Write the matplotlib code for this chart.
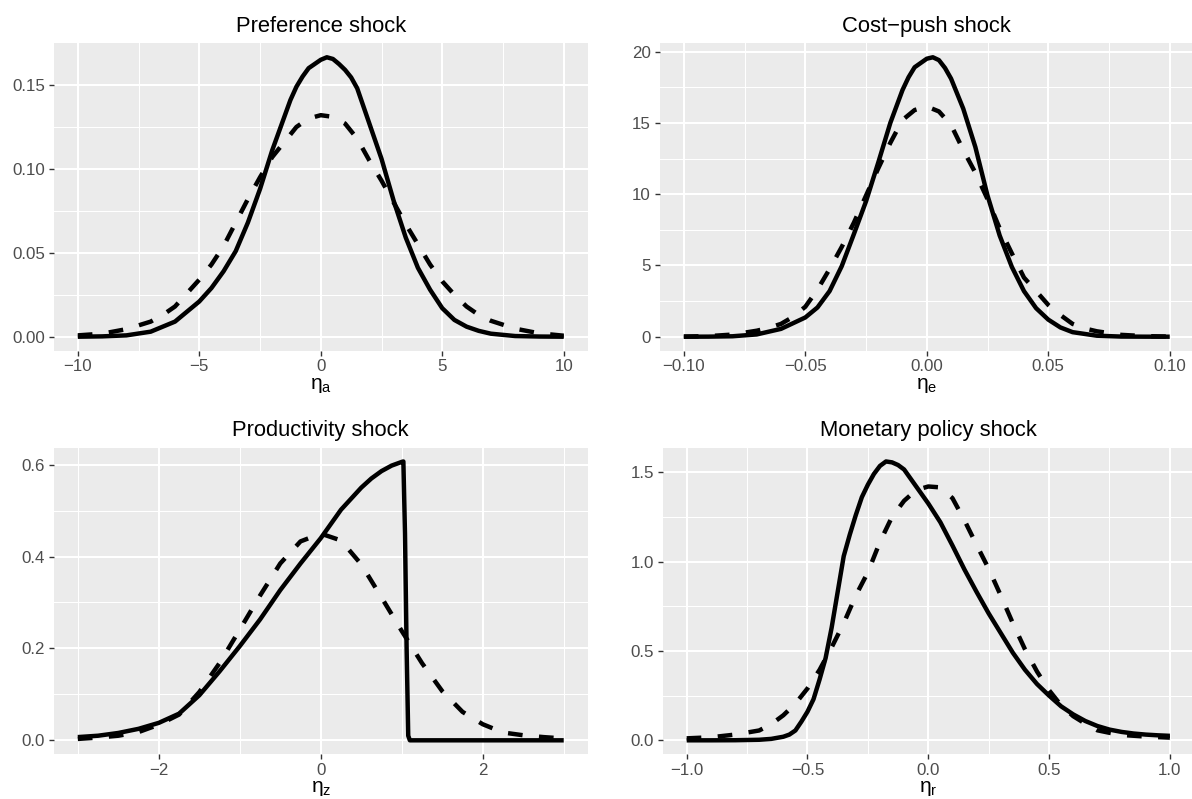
import matplotlib
matplotlib.use("Agg")
import matplotlib.pyplot as plt

plt.rcParams['font.family'] = ['Liberation Sans', 'DejaVu Sans']
plt.rcParams['mathtext.fontset'] = 'custom'
plt.rcParams['mathtext.rm'] = 'Liberation Sans'
plt.rcParams['mathtext.it'] = 'Liberation Sans:italic'

# Datos
#------------------------------------------------------------------------
# Preference shock
pref_x_solid = [-10, -9, -8, -7, -6, -5, -4.5, -4, -3.5, -3, -2.5, -2, -1.5, -1.25, -1, -0.75, -0.5, 0, 0.25,
                0.5, 0.75, 1, 1.25, 1.5, 2, 2.5, 3, 3.5, 4, 4.5, 5, 5.5, 6, 6.5, 7, 8, 9, 10]
pref_solid = [0.0, 0.0002, 0.0008, 0.003, 0.009, 0.021, 0.029, 0.039, 0.051, 0.068, 0.088, 0.111, 0.131,
              0.141, 0.149, 0.155, 0.160, 0.165, 0.1665, 0.1655, 0.1625, 0.159, 0.1545, 0.148, 0.127, 0.106,
              0.081, 0.059, 0.041, 0.028, 0.017, 0.010, 0.006, 0.0035, 0.0018, 0.0004, 0.0001, 0.0]
pref_x_dashed = [-10, -9, -8, -7, -6.5, -6, -5, -4.5, -4, -3.5, -3, -2.5, -2, -1.5, -1, -0.5, 0, 0.5, 1, 1.5,
                 2, 2.5, 3, 3.5, 4, 4.5, 5, 5.5, 6, 6.5, 7, 8, 9, 10]
pref_dashed = [0.0008, 0.0018, 0.0045, 0.009, 0.013, 0.018, 0.034, 0.043, 0.054, 0.068, 0.082, 0.095, 0.107,
               0.116, 0.125, 0.130, 0.132, 0.131, 0.127, 0.118, 0.105, 0.093, 0.080, 0.067, 0.055, 0.043,
               0.033, 0.025, 0.018, 0.013, 0.0095, 0.0048, 0.002, 0.0006]

# Cost-push shock
cost_x_solid = [-0.10, -0.09, -0.08, -0.07, -0.06, -0.05, -0.045, -0.04, -0.035, -0.03, -0.025, -0.02, -0.015,
                -0.01, -0.0075, -0.005, 0.0, 0.0025, 0.005, 0.0075, 0.01, 0.015, 0.02, 0.025, 0.03, 0.035,
                0.04, 0.045, 0.05, 0.055, 0.06, 0.07, 0.08, 0.09, 0.10]
cost_solid = [0.0, 0.005, 0.03, 0.16, 0.55, 1.35, 2.05, 3.2, 4.95, 7.2, 9.5, 12.2, 15.0, 17.3, 18.2, 18.9,
              19.5, 19.6, 19.4, 18.85, 18.1, 16.0, 13.3, 9.9, 7.1, 4.9, 3.2, 2.0, 1.2, 0.65, 0.32, 0.07,
              0.01, 0.002, 0.0]
cost_x_dashed = [-0.10, -0.09, -0.08, -0.07, -0.065, -0.06, -0.055, -0.05, -0.045, -0.04, -0.035, -0.03,
                 -0.025, -0.02, -0.015, -0.01, -0.005, 0.0, 0.005, 0.01, 0.015, 0.02, 0.025, 0.03, 0.035,
                 0.04, 0.045, 0.05, 0.055, 0.06, 0.065, 0.07, 0.08, 0.09, 0.10]
cost_dashed = [0.01, 0.04, 0.15, 0.42, 0.62, 0.9, 1.4, 2.1, 3.3, 4.75, 6.3, 8.0, 9.9, 11.8, 13.6, 15.2,
               15.9, 16.15, 15.8, 14.85, 13.1, 11.5, 9.65, 7.6, 5.85, 4.15, 3.2, 2.23, 1.52, 0.9, 0.58,
               0.38, 0.13, 0.04, 0.01]

# Productivity shock
prod_x_solid = [-3, -2.75, -2.5, -2.25, -2, -1.75, -1.5, -1.25, -1, -0.75, -0.5, -0.25, 0, 0.25, 0.5,
                0.625, 0.75, 0.875, 1.0, 1.02, 1.04, 1.06, 1.08, 1.1, 1.5, 2, 2.5, 3]
prod_solid = [0.007, 0.010, 0.016, 0.025, 0.038, 0.058, 0.098, 0.150, 0.205, 0.263, 0.327, 0.385, 0.44,
              0.502, 0.55, 0.570, 0.586, 0.598, 0.606, 0.607, 0.45, 0.2, 0.01, 0.0, 0.0, 0.0, 0.0, 0.0]
prod_x_dashed = [-3, -2.75, -2.5, -2.25, -2, -1.75, -1.5, -1.25, -1, -0.75, -0.5, -0.25, 0, 0.25, 0.5,
                 0.75, 1, 1.25, 1.5, 1.75, 2, 2.25, 2.5, 2.75, 3]
prod_dashed = [0.003, 0.006, 0.010, 0.018, 0.034, 0.056, 0.105, 0.168, 0.241, 0.315, 0.385, 0.433, 0.45,
               0.435, 0.383, 0.311, 0.238, 0.168, 0.107, 0.062, 0.035, 0.017, 0.011, 0.007, 0.004]

# Monetary policy shock
mon_x_solid = [-1, -0.9, -0.8, -0.7, -0.65, -0.6, -0.575, -0.55, -0.525, -0.5, -0.475, -0.45, -0.425, -0.4,
               -0.375, -0.35, -0.325, -0.3, -0.275, -0.25, -0.225, -0.2, -0.175, -0.15, -0.125, -0.1, -0.05,
               0, 0.05, 0.1, 0.15, 0.2, 0.25, 0.3, 0.35, 0.4, 0.45, 0.5, 0.55, 0.6, 0.65, 0.7, 0.75, 0.8,
               0.85, 0.9, 0.95, 1.0]
mon_solid = [0.0, 0.0, 0.0005, 0.003, 0.008, 0.02, 0.032, 0.055, 0.105, 0.16, 0.23, 0.34, 0.46, 0.63, 0.83,
             1.03, 1.15, 1.26, 1.36, 1.43, 1.49, 1.535, 1.56, 1.555, 1.54, 1.515, 1.42, 1.325, 1.22, 1.09,
             0.955, 0.83, 0.71, 0.6, 0.49, 0.395, 0.315, 0.25, 0.19, 0.145, 0.108, 0.08, 0.06, 0.047, 0.038,
             0.032, 0.028, 0.025]
mon_x_dashed = [-1, -0.9, -0.8, -0.7, -0.65, -0.6, -0.55, -0.5, -0.45, -0.4, -0.35, -0.3, -0.25, -0.2, -0.15,
                -0.1, -0.05, 0, 0.05, 0.1, 0.15, 0.2, 0.25, 0.3, 0.35, 0.4, 0.45, 0.5, 0.55, 0.6, 0.65, 0.7,
                0.75, 0.8, 0.9, 1.0]
mon_dashed = [0.011, 0.017, 0.032, 0.055, 0.09, 0.14, 0.205, 0.29, 0.394, 0.52, 0.655, 0.81, 0.94, 1.11,
              1.25, 1.34, 1.40, 1.42, 1.415, 1.355, 1.23, 1.093, 0.96, 0.81, 0.655, 0.51, 0.385, 0.28,
              0.195, 0.135, 0.093, 0.056, 0.042, 0.03, 0.021, 0.015]

# Ticks y etiquetas
pref_xticks = [-10, -5, 0, 5, 10]
pref_xlabels = ['\u221210', '\u22125', '0', '5', '10']
pref_yticks = [0.0, 0.05, 0.10, 0.15]
pref_ylabels = ['0.00', '0.05', '0.10', '0.15']

cost_xticks = [-0.10, -0.05, 0.0, 0.05, 0.10]
cost_xlabels = ['\u22120.10', '\u22120.05', '0.00', '0.05', '0.10']
cost_yticks = [0, 5, 10, 15, 20]
cost_ylabels = ['0', '5', '10', '15', '20']

prod_xticks = [-2, 0, 2]
prod_xlabels = ['\u22122', '0', '2']
prod_yticks = [0.0, 0.2, 0.4, 0.6]
prod_ylabels = ['0.0', '0.2', '0.4', '0.6']

mon_xticks = [-1.0, -0.5, 0.0, 0.5, 1.0]
mon_xlabels = ['\u22121.0', '\u22120.5', '0.0', '0.5', '1.0']
mon_yticks = [0.0, 0.5, 1.0, 1.5]
mon_ylabels = ['0.0', '0.5', '1.0', '1.5']


# Funciones
#------------------------------------------------------------------------
def panel(rect, xs, ys, xd, yd, title, xlab, xt, xtl, yt, ytl):
    ax = fig.add_axes(rect)
    ax.set_facecolor('#EBEBEB')
    ax.set_axisbelow(True)
    for s in ax.spines.values():
        s.set_visible(False)

    ax.plot(xs, ys, color='black', lw=3.2, solid_capstyle='butt',
            solid_joinstyle='round', zorder=3)
    ax.plot(xd, yd, color='black', lw=3.2, dashes=(3.3, 3.7),
            dash_joinstyle='round', zorder=3)

    # limites con expansion del 5% como ggplot
    x0, x1 = min(xs + xd), max(xs + xd)
    y0, y1 = min(ys + yd), max(ys + yd)
    dx, dy = 0.05 * (x1 - x0), 0.05 * (y1 - y0)

    ax.set_xticks(xt, xtl)
    ax.set_yticks(yt, ytl)
    # lineas menores a medio camino
    xm = [(a + b) / 2 for a, b in zip(xt[:-1], xt[1:])]
    ym = [(a + b) / 2 for a, b in zip(yt[:-1], yt[1:])]
    xm = [xt[0] - (xt[1] - xt[0]) / 2] + xm + [xt[-1] + (xt[1] - xt[0]) / 2]
    ax.set_xticks(xm, minor=True)
    ax.set_yticks(ym, minor=True)
    ax.set_xlim(x0 - dx, x1 + dx)
    ax.set_ylim(y0 - dy, y1 + dy)

    ax.grid(which='major', color='white', lw=1.5)
    ax.grid(which='minor', color='white', lw=0.75)
    ax.tick_params(which='major', length=3.7, width=1.0, color='#333333',
                   labelcolor='#4D4D4D', labelsize=12.2, pad=2.5)
    ax.tick_params(which='minor', length=0)

    ax.set_title(title, fontsize=15.8, pad=8)
    ax.set_xlabel(xlab, fontsize=15, labelpad=1)
    return ax


# Crear figura
#------------------------------------------------------------------------
fig = plt.figure(figsize=(11.92, 7.99), dpi=100)

panel([0.0449, 0.5611, 0.4484, 0.3847], pref_x_solid, pref_solid, pref_x_dashed, pref_dashed,
      'Preference shock', r'$\mathrm{\eta_a}$', pref_xticks, pref_xlabels, pref_yticks, pref_ylabels)
panel([0.5533, 0.5611, 0.4484, 0.3847], cost_x_solid, cost_solid, cost_x_dashed, cost_dashed,
      'Cost\u2212push shock', r'$\mathrm{\eta_e}$', cost_xticks, cost_xlabels, cost_yticks, cost_ylabels)
panel([0.0449, 0.0560, 0.4484, 0.3839], prod_x_solid, prod_solid, prod_x_dashed, prod_dashed,
      'Productivity shock', r'$\mathrm{\eta_z}$', prod_xticks, prod_xlabels, prod_yticks, prod_ylabels)
panel([0.5558, 0.0560, 0.4459, 0.3839], mon_x_solid, mon_solid, mon_x_dashed, mon_dashed,
      'Monetary policy shock', r'$\mathrm{\eta_r}$', mon_xticks, mon_xlabels, mon_yticks, mon_ylabels)

fig.savefig('out.png', dpi=100)
